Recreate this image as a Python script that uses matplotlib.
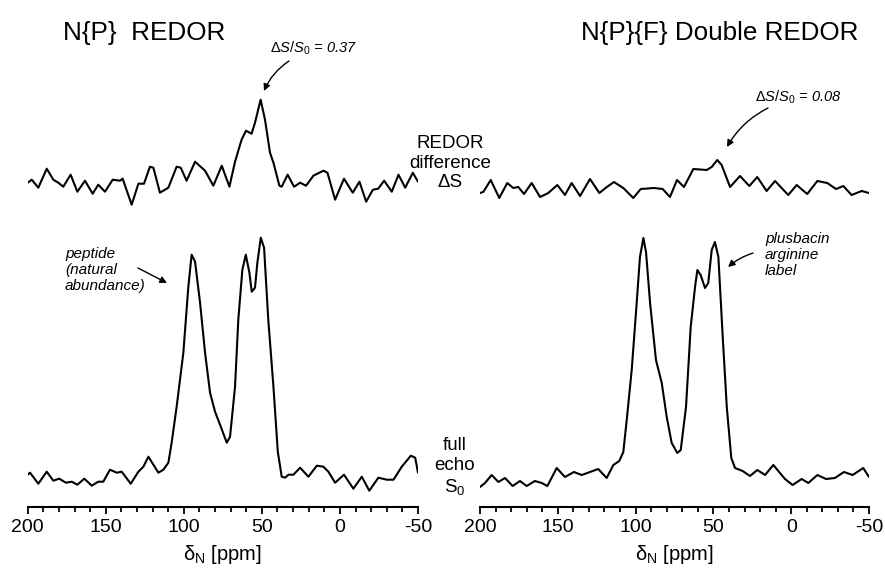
import matplotlib
matplotlib.use("Agg")
import matplotlib.pyplot as plt
from matplotlib.ticker import MultipleLocator
from matplotlib.patches import FancyArrowPatch

plt.rcParams['font.family'] = ['Liberation Sans', 'DejaVu Sans']
plt.rcParams['mathtext.fontset'] = 'custom'
plt.rcParams['mathtext.rm'] = 'Liberation Sans'
plt.rcParams['mathtext.it'] = 'Liberation Sans:italic'

# ---------------- data (ppm, intensity a.u.) ----------------
# N{P} REDOR : full echo S0
left_s0_ppm = [200, 198.5, 193.2, 187.8, 183.6, 179.8, 175.5, 171.8, 168.2, 163.7, 159, 154.8,
               151.6, 147.3, 143, 139.8, 134, 129.1, 125.9, 122.7, 119.5, 116.3, 113.1, 109.9,
               107.8, 104.6, 100.3, 97.1, 95, 92.8, 89.6, 86.4, 83.2, 80, 76.8, 72.5, 70.4, 67.2,
               65.1, 62.5, 60.3, 58, 56.5, 54.4, 52.9, 50.7, 48.6, 45.9, 42.6, 39.8, 37.3, 35.2,
               33, 29.8, 25.5, 20.2, 14.8, 10.6, 7.4, 3.1, -2.6, -8.6, -14, -18.8, -24.6, -30,
               -34.3, -39.6, -45.4, -48.2, -50]
left_s0_int = [3, 5, -6, 6, -3, -1, -5, -4, -7, -1, -8, -4,
               -4, 8, 5, 6, -6, 6, 11, 21, 13, 5, 8, 15,
               35, 71, 125, 191, 223, 216, 175, 125, 85, 66, 53, 35, 41, 91,
               158, 208, 223, 205, 186, 190, 215, 240, 230, 158, 91, 26, 1, 0,
               3, 3, 10, 1, 12, 11, 6, -5, 3, -11, 1, -13, 0, -2,
               -2, 11, 22, 20, 5]

# N{P} REDOR : difference dS
left_ds_ppm = [200, 197.4, 193.2, 187.8, 183.6, 180.4, 177.2, 172.5, 168.2, 163.3, 158.4, 154.8,
               150.5, 145.6, 140.9, 139.2, 133.4, 129.1, 125.5, 121.7, 119.5, 115.3, 109.9, 104.6,
               102, 98.2, 92.8, 86.4, 81.1, 75.7, 70.8, 67.2, 63, 60.2, 56.6, 54.4, 50.8, 48,
               44.8, 42.6, 38.8, 37.3, 33.5, 29.4, 25.5, 21.7, 17, 10.6, 8, 3.1, -2.6, -8.2,
               -12.5, -16.8, -21.1, -24.5, -28.3, -33.2, -37.5, -41.8, -46.7, -50]
left_ds_int = [0, 3, -5, 14, 3, 0, -4, 8, -9, 2, -11, -2,
               -9, 3, 2, 4, -22, -1, -1, 16, 15, -10, -5, 16,
               15, 2, 21, 12, -3, 17, -4, 21, 43, 52, 49, 60, 83, 63,
               30, 20, -3, -4, 8, -4, 0, -3, 7, 12, 10, -17, 4, -10,
               1, -19, -7, -6, 2, -9, 8, -5, 10, 1]

# N{P}{F} Double REDOR : full echo S0
right_s0_ppm = [200, 196.8, 192.5, 188.2, 183.9, 179, 174.3, 170, 164.7, 160.3, 156.7, 150.7,
                145.4, 139.6, 134.6, 129.3, 124, 118.6, 114.3, 110.5, 107.9, 105.7, 102.5, 99.3,
                97.2, 95, 93.3, 90.7, 86.9, 83.2, 80, 76.8, 73.2, 71, 67.6, 64.6, 61.8, 60.3,
                58.2, 55.4, 53.3, 51.1, 49, 46.8, 44, 41.4, 38.5, 36.1, 31.2, 26.5, 21.8, 16.8,
                11.5, 7.2, 4, -0.9, -6.7, -11, -16.8, -22.4, -28.1, -33.9, -39.5, -46.3, -50]
right_s0_int = [-7, -3, 5, -2, 2, -6, -1, -6, -1, -3, -6, 12,
                3, 8, 5, 8, 11, 2, 15, 19, 28, 60, 110, 177,
                223, 242, 228, 177, 120, 97, 63, 37, 27, 30, 73, 153, 193, 210,
                205, 192, 197, 230, 238, 223, 143, 73, 22, 12, 9, 4, 10, 5,
                15, 7, 1, -5, 1, -3, 5, 1, 2, 8, 5, 12, 3]

# N{P}{F} Double REDOR : difference dS
right_ds_ppm = [200, 197.9, 193.1, 187.6, 182.5, 178.6, 175.4, 171.7, 166.8, 161.4, 156.1, 150.3,
                145.4, 141.1, 135.7, 129.3, 123.3, 118.5, 113.9, 107.9, 101.5, 96.7, 88.2, 82.6,
                77.9, 73.4, 68.9, 62.9, 54.3, 51.1, 47.5, 44.7, 39.3, 32.9, 26.9, 21.8, 15.8, 10.4,
                1.9, -3.5, -10.3, -16.8, -23.2, -28.8, -33.5, -38.8, -45.3, -50]
right_ds_int = [-4, -3, 9, -9, 6, 1, 2, -5, 6, -8, -4, 4,
                -6, 6, -7, 10, -4, 2, 7, 1, -9, 0, 1, 0,
                -8, 9, 2, 20, 19, 22, 29, 24, 2, 13, 3, 12, -2, 8,
                -6, 4, -5, 8, 6, 0, 3, -6, -2, -4]

# vertical stacking offsets of the traces
left_offsets = {'s0': 29, 'ds': 324}
right_offsets = {'s0': 27, 'ds': 318}

x_ticks_major = [200, 150, 100, 50, 0, -50]

fig = plt.figure(figsize=(8.85, 5.7), dpi=100)
axL = fig.add_axes([27.7 / 885, (570 - 506.7) / 570, (418 - 27.7) / 885, 506.7 / 570])
axR = fig.add_axes([480 / 885, (570 - 507) / 570, (869 - 480) / 885, 507 / 570])

style = dict(color='black', lw=1.5, solid_joinstyle='round', solid_capstyle='round')
axL.plot(left_s0_ppm, [v + left_offsets['s0'] for v in left_s0_int], **style)
axL.plot(left_ds_ppm, [v + left_offsets['ds'] for v in left_ds_int], **style)
axR.plot(right_s0_ppm, [v + right_offsets['s0'] for v in right_s0_int], **style)
axR.plot(right_ds_ppm, [v + right_offsets['ds'] for v in right_ds_int], **style)

for ax, top in ((axL, 506.7), (axR, 507)):
    ax.set_xlim(200, -50)
    ax.set_ylim(0, top)
    for s in ('top', 'left', 'right'):
        ax.spines[s].set_visible(False)
    ax.spines['bottom'].set_linewidth(1.5)
    ax.set_yticks([])
    ax.set_xticks(x_ticks_major)
    ax.set_xticklabels([str(t) for t in x_ticks_major])
    ax.xaxis.set_minor_locator(MultipleLocator(10))
    ax.tick_params(axis='x', which='major', direction='out', length=5, width=1.3,
                   labelsize=14, pad=4)
    ax.tick_params(axis='x', which='minor', direction='out', length=3.5, width=1.3)
    ax.set_xlabel(r'$\mathrm{\delta_N}$ [ppm]', fontsize=14.5, labelpad=5)
    ax.patch.set_alpha(0)

# titles
fig.text(63 / 885, 1 - 33 / 570, 'N{P}  REDOR', fontsize=18.8, ha='left', va='center')
fig.text(858 / 885, 1 - 33 / 570, 'N{P}{F} Double REDOR', fontsize=18.7, ha='right', va='center')

# side labels
fig.text(450 / 885, 1 - 163 / 570, 'REDOR\ndifference\nΔS', fontsize=13.5, ha='center',
         va='center', linespacing=1.22)
fig.text(455 / 885, 1 - 467 / 570, 'full\necho\nS$_0$', fontsize=13.5, ha='center',
         va='center', linespacing=1.22)

def fxy(x, y):
    return (x / 885, 1 - y / 570)

arrowprops = dict(arrowstyle='-|>', color='black', lw=1.0, mutation_scale=10,
                  shrinkA=0, shrinkB=0, transform=fig.transFigure)

fig.text(314 / 885, 1 - 48 / 570, r'$\mathit{\Delta S/S_0}$ = 0.37', fontsize=10.5,
         style='italic', ha='center', va='center')
fig.add_artist(FancyArrowPatch(fxy(289, 61), fxy(264, 91),
                               connectionstyle='arc3,rad=0.15', **arrowprops))

fig.text(798 / 885, 1 - 97 / 570, r'$\mathit{\Delta S/S_0}$ = 0.08', fontsize=10.5,
         style='italic', ha='center', va='center')
fig.add_artist(FancyArrowPatch(fxy(768, 108), fxy(727, 147),
                               connectionstyle='arc3,rad=0.15', **arrowprops))

fig.text(65 / 885, 1 - 270 / 570, 'peptide\n(natural\nabundance)', fontsize=11,
         style='italic', ha='left', va='center', linespacing=1.2)
fig.add_artist(FancyArrowPatch(fxy(138, 268), fxy(167, 283),
                               connectionstyle='arc3,rad=0', **arrowprops))

fig.text(765 / 885, 1 - 255 / 570, 'plusbacin\narginine\nlabel', fontsize=11,
         style='italic', ha='left', va='center', linespacing=1.2)
fig.add_artist(FancyArrowPatch(fxy(753, 253), fxy(728, 267),
                               connectionstyle='arc3,rad=0.1', **arrowprops))

fig.savefig('out.png', dpi=100)
